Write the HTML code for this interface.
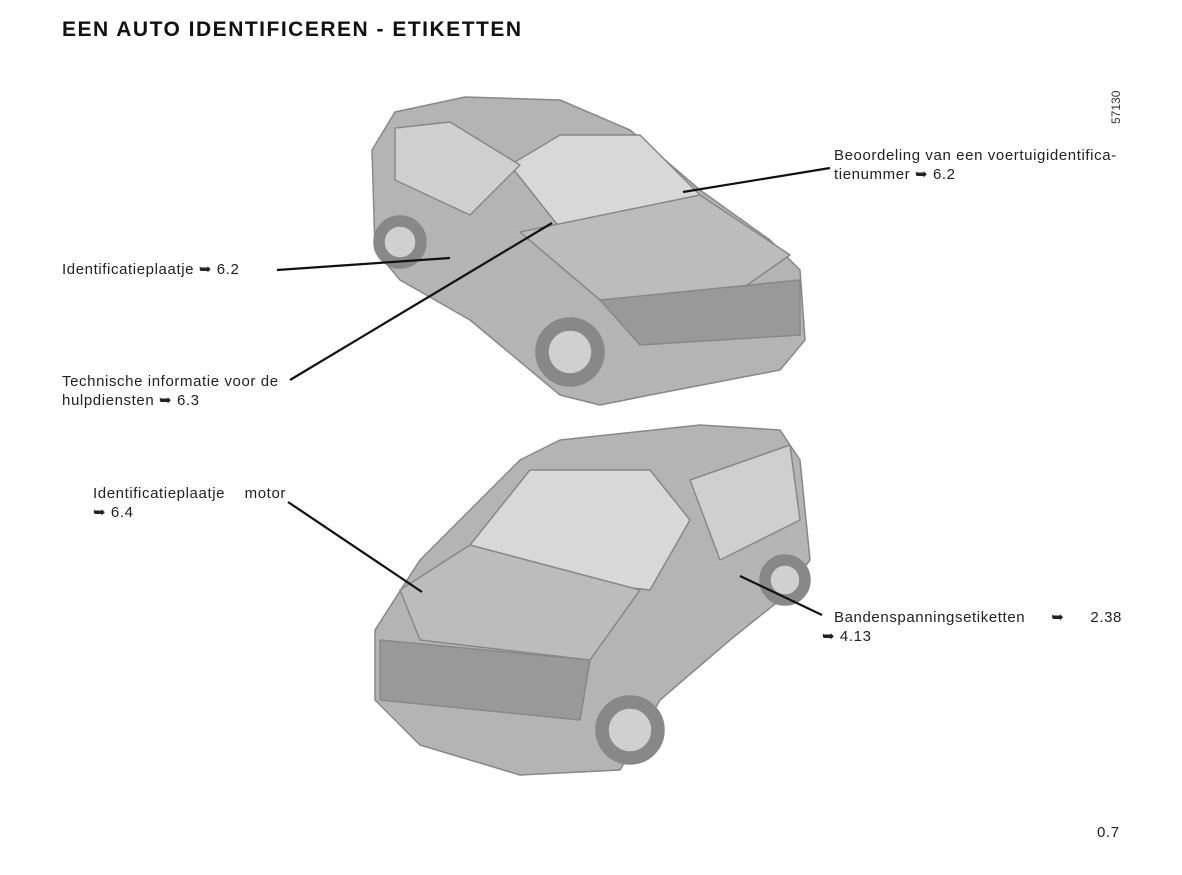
<!DOCTYPE html>
<html><head><meta charset="utf-8"><style>
body{margin:0;width:1182px;height:875px;background:#fff;position:relative;overflow:hidden;font-family:"Liberation Sans",sans-serif;color:#222}
.t{position:absolute;font-size:15px;line-height:19px;letter-spacing:0.6px}
h1{position:absolute;left:62px;top:18px;margin:0;font-size:21px;font-weight:bold;letter-spacing:1.5px;color:#111}
</style></head><body>
<h1>EEN AUTO IDENTIFICEREN - ETIKETTEN</h1>
<svg width="1182" height="875" style="position:absolute;left:0;top:0">
<g stroke="#888" stroke-width="1.5" stroke-linejoin="round">
<polygon fill="#b4b4b4" points="372,150 395,112 465,97 560,100 630,130 700,190 770,240 800,270 805,340 780,370 650,395 600,405 560,395 470,320 400,280 375,250"/>
<polygon fill="#d8d8d8" points="510,165 560,135 640,135 700,195 560,228"/>
<polygon fill="#cfcfcf" points="395,128 450,122 520,165 470,215 395,180"/>
<polygon fill="#bcbcbc" points="520,232 700,195 790,255 740,290 600,300"/>
<polygon fill="#999" points="600,300 800,280 800,335 640,345"/>
<circle cx="570" cy="352" r="34" fill="#888"/><circle cx="570" cy="352" r="22" fill="#d0d0d0"/>
<circle cx="400" cy="242" r="26" fill="#888"/><circle cx="400" cy="242" r="16" fill="#d0d0d0"/>
<polygon fill="#b4b4b4" points="375,630 420,560 520,460 560,440 700,425 780,430 800,460 810,560 780,600 730,640 660,700 620,770 520,775 420,745 375,700"/>
<polygon fill="#d8d8d8" points="470,545 530,470 650,470 690,520 650,590 520,575"/>
<polygon fill="#cfcfcf" points="690,480 790,445 800,520 720,560"/>
<polygon fill="#bcbcbc" points="400,590 470,545 640,590 590,660 420,640"/>
<polygon fill="#999" points="380,640 590,660 580,720 380,700"/>
<circle cx="630" cy="730" r="34" fill="#888"/><circle cx="630" cy="730" r="22" fill="#d0d0d0"/>
<circle cx="785" cy="580" r="25" fill="#888"/><circle cx="785" cy="580" r="15" fill="#d0d0d0"/>
</g>
<g stroke="#111" stroke-width="2.2">
<line x1="830" y1="168" x2="683" y2="192"/>
<line x1="277" y1="270" x2="450" y2="258"/>
<line x1="290" y1="380" x2="552" y2="223"/>
<line x1="288" y1="502" x2="422" y2="592"/>
<line x1="822" y1="615" x2="740" y2="576"/>
</g>
<text x="1120" y="124" transform="rotate(-90 1120 124)" font-family="Liberation Sans" font-size="12" fill="#333">57130</text>
</svg>
<div class="t" style="left:834px;top:146px">Beoordeling van een voertuigidentifica-<br>tienummer ➥ 6.2</div>
<div class="t" style="left:62px;top:260px">Identificatieplaatje ➥ 6.2</div>
<div class="t" style="left:62px;top:372px">Technische informatie voor de<br>hulpdiensten ➥ 6.3</div>
<div class="t" style="left:93px;top:484px;width:193px;text-align:justify;text-align-last:justify">Identificatieplaatje motor</div>
<div class="t" style="left:93px;top:503px">➥ 6.4</div>
<div class="t" style="left:834px;top:608px;width:288px;text-align:justify;text-align-last:justify">Bandenspanningsetiketten ➥ 2.38</div>
<div class="t" style="left:822px;top:627px">➥ 4.13</div>
<div class="t" style="left:1097px;top:823px">0.7</div>
</body></html>
